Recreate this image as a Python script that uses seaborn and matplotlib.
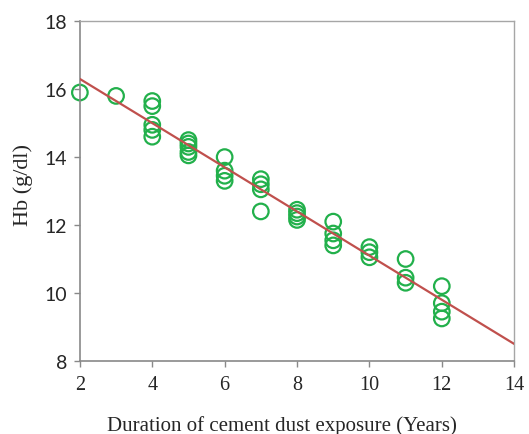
import seaborn as sns
import numpy as np
import pandas as pd
import matplotlib.pyplot as plt

years = [2, 3,
         4, 4, 4, 4, 4,
         5, 5, 5, 5, 5,
         6, 6, 6, 6,
         7, 7, 7, 7,
         8, 8, 8, 8,
         9, 9, 9, 9,
         10, 10, 10,
         11, 11, 11,
         12, 12, 12, 12]
hb = [15.9, 15.8,
      15.65, 15.5, 14.95, 14.8, 14.6,
      14.5, 14.4, 14.3, 14.15, 14.05,
      14.0, 13.6, 13.45, 13.3,
      13.35, 13.2, 13.05, 12.4,
      12.45, 12.35, 12.25, 12.15,
      12.1, 11.75, 11.55, 11.4,
      11.35, 11.2, 11.05,
      11.0, 10.45, 10.3,
      10.2, 9.7, 9.45, 9.25]

# linear trend line end points
trend_x = [2, 14]
trend_y = [16.3, 8.5]

x_ticks = [2, 4, 6, 8, 10, 12, 14]
y_ticks = [8, 10, 12, 14, 16, 18]

df = pd.DataFrame({"years": years, "hb": hb})
trend = pd.DataFrame({"years": trend_x, "hb": trend_y})

sns.set_style("white")

fig = plt.figure(figsize=(5.29, 4.35), dpi=100)
ax = fig.add_axes([0.151, 0.168, 0.821, 0.781])

sns.lineplot(data=trend, x="years", y="hb", color="#c0504d", linewidth=1.6, ax=ax, zorder=3)
sns.scatterplot(data=df, x="years", y="hb", marker="o", s=125,
                facecolor="none", edgecolor="#22b04b", linewidth=1.6, ax=ax,
                zorder=2, clip_on=False)

ax.set_xlim(2, 14)
ax.set_ylim(8, 18)
ax.set_xticks(x_ticks)
ax.set_yticks(y_ticks)
ax.set_xticklabels([str(t) for t in x_ticks], fontfamily="Liberation Serif", fontsize=14.5)
ax.set_yticklabels([str(t) for t in y_ticks], fontfamily="Lato", fontsize=14)

ax.set_xlabel("Duration of cement dust exposure (Years)", fontfamily="Liberation Serif",
              fontsize=15)
ax.set_ylabel("Hb (g/dl)", fontfamily="Liberation Serif", fontsize=16)
# titles sit a bit off centre in the original
ax.xaxis.set_label_coords(0.465, -0.16)
ax.yaxis.set_label_coords(-0.108, 0.522)

for side in ["left", "bottom"]:
    ax.spines[side].set_color("#898989")
    ax.spines[side].set_linewidth(1.2)
for side in ["top", "right"]:
    ax.spines[side].set_color("#a6a6a6")
    ax.spines[side].set_linewidth(1.0)

ax.tick_params(axis="both", direction="out", length=4, width=1, color="#898989",
               left=True, bottom=True)
ax.tick_params(axis="x", pad=6)
ax.tick_params(axis="y", pad=5)

fig.savefig("out.png", dpi=100)
